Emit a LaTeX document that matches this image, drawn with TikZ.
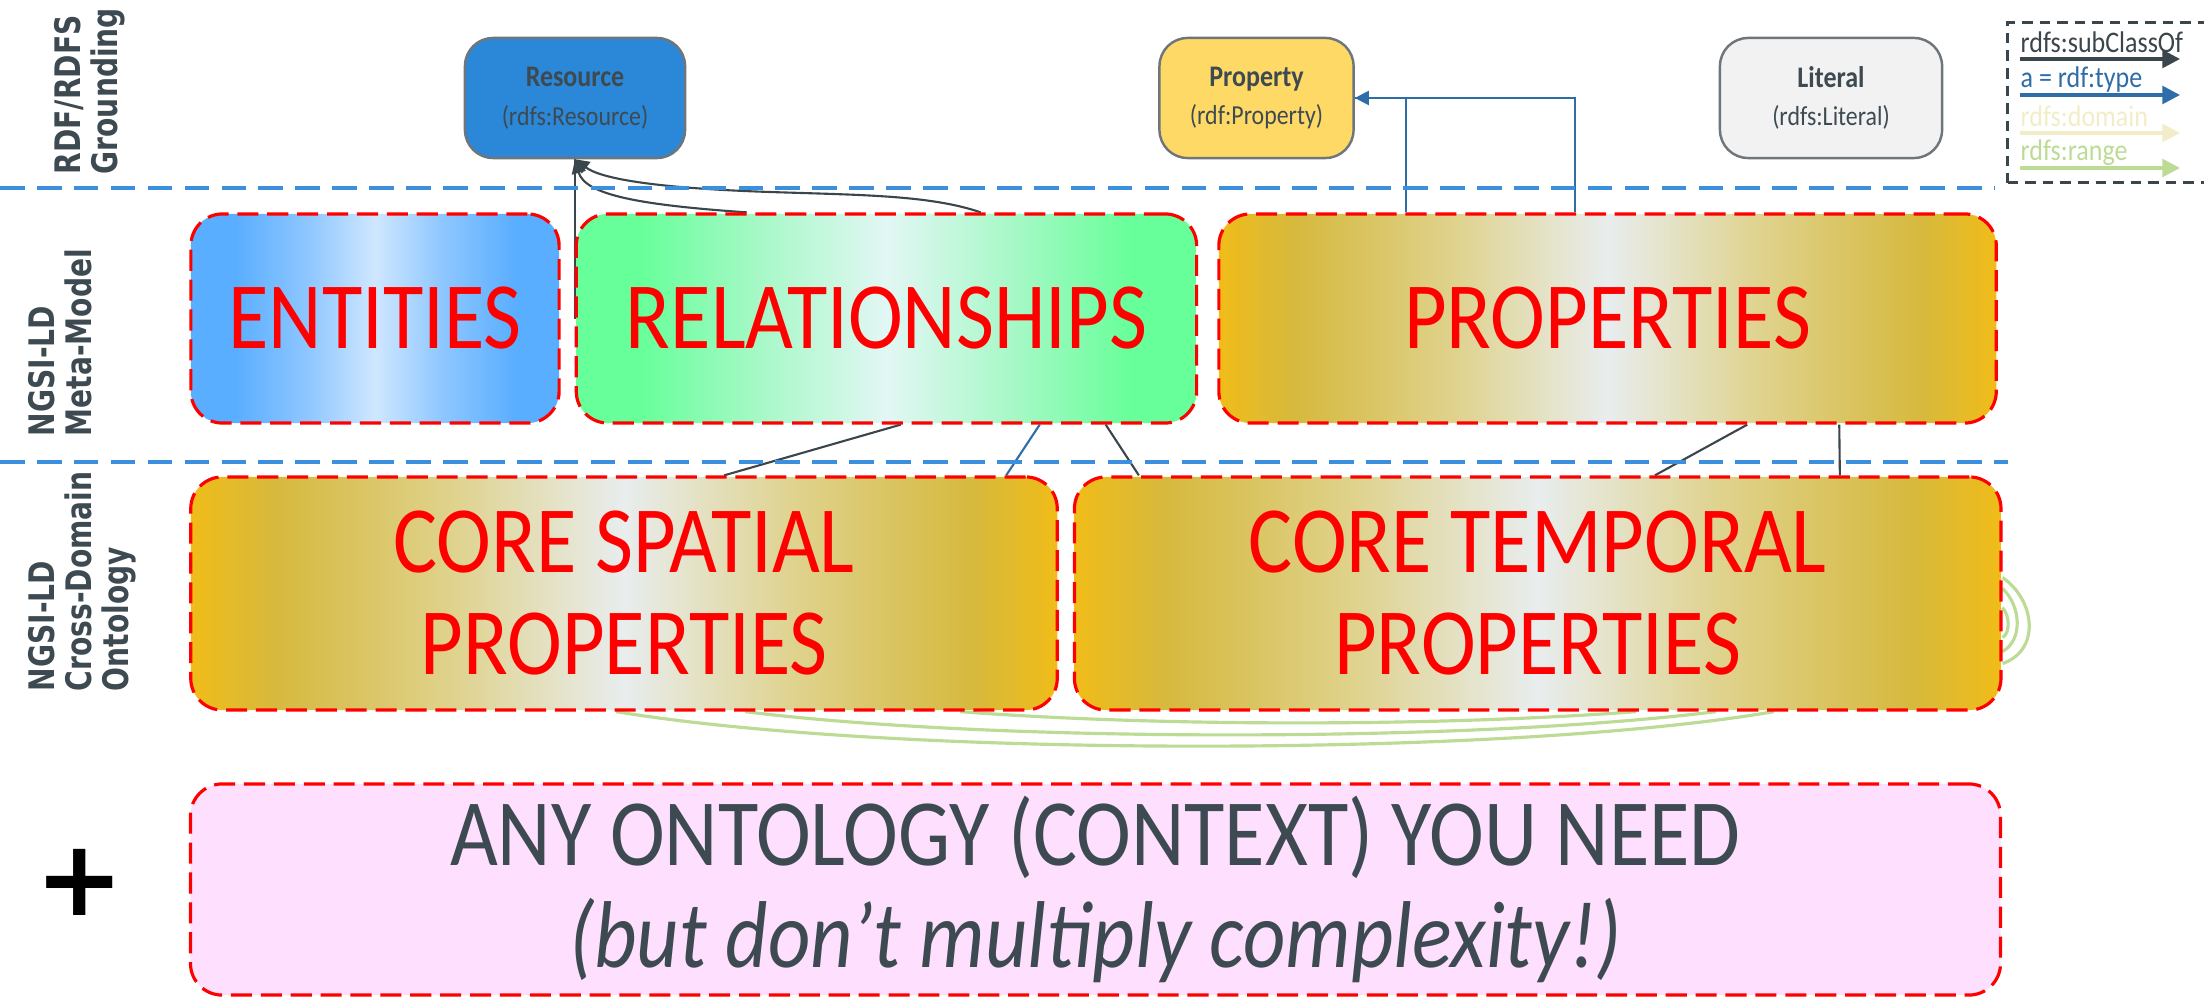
\documentclass[tikz,border=0pt]{standalone}
\usepackage{fontspec}
\setmainfont[FakeStretch=0.87]{Carlito}
\newfontfamily\labelfont[FakeStretch=0.8]{DejaVu Sans}
\newfontfamily\plusfont{DejaVu Sans}
\usetikzlibrary{shapes, arrows.meta, positioning, calc, backgrounds}

\definecolor{sepblue}{HTML}{3B8FDC}
\definecolor{darkline}{HTML}{3B454C}
\definecolor{typeblue}{HTML}{2E6DA8}
\definecolor{rangegreen}{HTML}{BCDB95}
\definecolor{domainyellow}{HTML}{F2EDC8}
\definecolor{textgrey}{HTML}{3E4A52}
\definecolor{resblue}{HTML}{2B88D8}
\definecolor{propyellow}{HTML}{FFD966}
\definecolor{litgrey}{HTML}{F2F2F2}
\definecolor{boxgrey}{HTML}{6E767C}
\definecolor{pinkfill}{HTML}{FEE0FE}
\definecolor{entedge}{HTML}{5AAEFF}
\definecolor{entmid}{HTML}{8FC7FF}
\definecolor{entcentre}{HTML}{CFE7FF}
\definecolor{reledge}{HTML}{66FF99}
\definecolor{relmid}{HTML}{A8F8C8}
\definecolor{relcentre}{HTML}{E2F7F4}
\definecolor{goldedge}{HTML}{F0BC18}
\definecolor{goldband}{HTML}{D6B93E}
\definecolor{goldmid}{HTML}{DFD28C}
\definecolor{goldcentre}{HTML}{E8EDEE}

\pgfdeclarehorizontalshading{entshade}{100bp}{color(0bp)=(entedge); color(25bp)=(entedge); color(31bp)=(entedge); color(41bp)=(entmid); color(50bp)=(entcentre); color(59bp)=(entmid); color(69bp)=(entedge); color(75bp)=(entedge); color(100bp)=(entedge)}
\pgfdeclarehorizontalshading{relshade}{100bp}{color(0bp)=(reledge); color(25bp)=(reledge); color(30bp)=(reledge); color(40bp)=(relmid); color(50bp)=(relcentre); color(60bp)=(relmid); color(70bp)=(reledge); color(75bp)=(reledge); color(100bp)=(reledge)}
\pgfdeclarehorizontalshading{goldshade}{100bp}{color(0bp)=(goldedge); color(25bp)=(goldedge); color(30bp)=(goldband); color(40bp)=(goldmid); color(50bp)=(goldcentre); color(60bp)=(goldmid); color(70bp)=(goldband); color(75bp)=(goldedge); color(100bp)=(goldedge)}

\begin{document}
\begin{tikzpicture}[
    x=0.01cm, y=-0.01cm,
    >={Triangle[length=4pt,width=4pt]},
    classbox/.style={draw=boxgrey, line width=0.7pt, rounded corners=8pt, minimum height=1.2cm, text=textgrey, align=center, inner sep=0pt, font=\fontsize{8.5}{11}\selectfont},
    bandbox/.style={draw=red, dash pattern=on 6pt off 2.5pt, line width=0.9pt, rounded corners=9pt, minimum height=2.09cm, text=red, align=center, inner sep=0pt, font=\fontsize{27}{29}\selectfont},
    sepline/.style={sepblue, line width=0.9pt, dash pattern=on 7pt off 3.5pt},
    sidelabel/.style={rotate=90, anchor=west, align=left, inner sep=0pt, text=textgrey, font=\labelfont\bfseries\fontsize{10}{10.5}\selectfont},
    subline/.style={draw=darkline, line width=0.6pt},
    typeline/.style={draw=typeblue, line width=0.6pt},
    rangeline/.style={draw=rangegreen, line width=0.9pt},
    legtext/.style={anchor=west, inner sep=0pt, font=\fontsize{8.5}{10}\selectfont},
    font=\small
]
\useasboundingbox (0,0) rectangle (2204,997);

% Layer separators
\draw[sepline] (0,188) -- (1995,188);
\draw[sepline] (0,462) -- (2008,462);

% Layer names
\node[sidelabel] (Lab1) at (90,175) {RDF/RDFS\\Grounding};
\node[sidelabel] (Lab2) at (60,437) {NGSI-LD\\Meta-Model};
\node[sidelabel] (Lab3) at (82,692) {NGSI-LD\\Cross-Domain\\Ontology};

% RDF/RDFS classes
\node[classbox, fill=resblue, minimum width=2.2cm] (Res) at (575,98) {\textbf{Resource}\\{\fontsize{7.8}{11}\selectfont(rdfs:Resource)}};
\node[classbox, fill=propyellow, minimum width=1.94cm] (Prop) at (1256.5,98) {\textbf{Property}\\{\fontsize{7.8}{11}\selectfont(rdf:Property)}};
\node[classbox, fill=litgrey, minimum width=2.22cm] (Lit) at (1831,98) {\textbf{Literal}\\{\fontsize{7.8}{11}\selectfont(rdfs:Literal)}};

% Legend
\node[draw=darkline, line width=0.9pt, dash pattern=on 3pt off 2pt, minimum width=2.4cm, minimum height=1.6cm, anchor=north west] (Leg) at (2006,21) {};
\node[legtext, text=darkline] (LegSub) at (2020,42) {rdfs:subClassOf};
\node[legtext, text=typeblue] (LegType) at (2020,80) {a = rdf:type};
\node[legtext, text=domainyellow] (LegDom) at (2020,116) {rdfs:domain};
\node[legtext, text=rangegreen] (LegRng) at (2020,153) {rdfs:range};
\draw[darkline, line width=1pt, -{Triangle[length=5pt,width=5pt]}] ($(LegSub.west)+(0,17)$) -- +(160,0);
\draw[typeblue, line width=1pt, -{Triangle[length=5pt,width=5pt]}] ($(LegType.west)+(0,15)$) -- +(160,0);
\draw[domainyellow, line width=1pt, -{Triangle[length=5pt,width=5pt]}] ($(LegDom.west)+(0,17)$) -- +(160,0);
\draw[rangegreen, line width=1pt, -{Triangle[length=5pt,width=5pt]}] ($(LegRng.west)+(0,15)$) -- +(160,0);

% Meta-model
\node[bandbox, shade, shading=entshade, minimum width=3.68cm] (Ent) at (375,318.5) {ENTITIES};
\node[bandbox, shade, shading=relshade, minimum width=6.2cm, right=0.14cm of Ent] (Rel) {RELATIONSHIPS};
\node[bandbox, shade, shading=goldshade, minimum width=7.77cm, right=0.19cm of Rel] (Props) {PROPERTIES};

% Cross-domain ontology
\node[bandbox, shade, shading=goldshade, minimum width=8.66cm, minimum height=2.33cm] (Spat) at (624,593.5) {CORE SPATIAL\\PROPERTIES};
\node[bandbox, shade, shading=goldshade, minimum width=9.26cm, minimum height=2.33cm, right=0.14cm of Spat] (Temp) {CORE TEMPORAL\\PROPERTIES};

% Anything else
\node[bandbox, fill=pinkfill, text=textgrey, minimum width=18.09cm, minimum height=2.11cm] (Any) at (1095.5,889.5) {ANY ONTOLOGY (CONTEXT) YOU NEED\\\textit{(but don’t multiply complexity!)}};
\node[inner sep=0pt, font=\plusfont\bfseries\fontsize{30}{30}\selectfont] (Plus) at (80,882) {+};

% Links, kept behind the boxes
\begin{pgfonlayer}{background}
\draw[subline] (Res.south) -- (Res.south |- Rel.center);
\draw[subline, ->] ($(Rel.north west)+(172,0)$) .. controls (640,205) and (585,195) .. (Res.south);
\draw[subline, ->] ($(Rel.north west)+(406,0)$) .. controls (930,195) and (860,195) .. (770,192) .. controls (650,188) and (600,178) .. (Res.south);

\draw[typeline, ->] ($(Props.north west)+(189,0)$) |- (Prop.east);
\draw[typeline] ($(Props.north west)+(358,0)$) |- (Prop.east);

\draw[subline] ($(Rel.south west)+(326,0)$) -- ($(Spat.north west)+(535,0)$);
\draw[typeline] ($(Rel.south west)+(465,0)$) -- ($(Spat.north west)+(817,0)$);
\draw[subline] ($(Rel.south west)+(531,0)$) -- ($(Temp.north west)+(66,0)$);
\draw[subline] ($(Props.south west)+(530,0)$) -- ($(Temp.north west)+(582,0)$);
\draw[subline] ($(Props.south west)+(622,0)$) -- ($(Temp.north west)+(767,0)$);

\draw[rangeline] ($(Spat.south west)+(427,0)$) .. controls +(280,46) and +(-270,46) .. ($(Temp.south west)+(701,0)$);
\draw[rangeline] ($(Spat.south west)+(556,0)$) .. controls +(250,31) and +(-250,31) .. ($(Temp.south west)+(643,0)$);
\draw[rangeline] ($(Spat.south west)+(771,0)$) .. controls +(200,15) and +(-200,15) .. ($(Temp.south west)+(563,0)$);
\draw[rangeline] ($(Temp.east)+(0,-16)$) .. controls +(33,23) and +(38,-13) .. ($(Temp.east)+(0,70)$);
\draw[rangeline] ($(Temp.east)+(0,-5)$) .. controls +(18,17) and +(21,-12) .. ($(Temp.east)+(0,58)$);
\draw[rangeline] ($(Temp.east)+(0,14)$) .. controls +(7,8) and +(8,-5) .. ($(Temp.east)+(0,44)$);
\end{pgfonlayer}

\end{tikzpicture}
\end{document}
